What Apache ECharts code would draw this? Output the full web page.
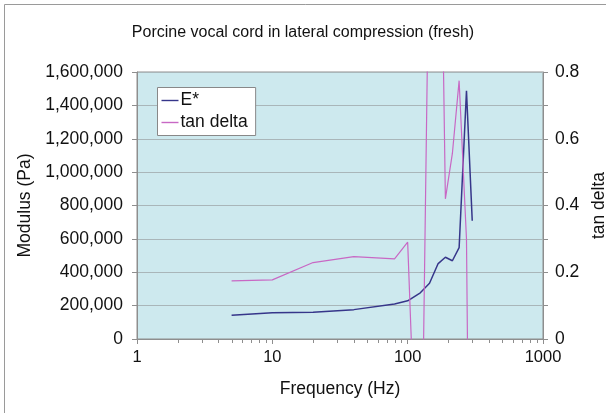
<!DOCTYPE html>
<html>
<head>
<meta charset="utf-8">
<script src="https://cdn.jsdelivr.net/npm/echarts@6/dist/echarts.min.js"></script>
<style>
  html, body { margin: 0; padding: 0; background: #fff; }
  #main { width: 606px; height: 413px; }
</style>
</head>
<body>
<div id="main"></div>
<script>
// frequencies (Hz)
var freq = [5, 10, 20, 40, 80, 100, 124, 145, 168, 190, 214, 240, 272, 300];
// complex modulus E* (Pa)
var modulus = [143000, 157000, 161000, 176000, 210000, 229000, 277000, 334000, 452000, 490000, 469000, 547000, 1488000, 709000];
// tan delta
var tanDelta = [0.174, 0.177, 0.229, 0.247, 0.240, 0.290, -0.73, 1.3, 1.9, 0.42, 0.556, 0.774, 0.30, -1.5];
var xTicks = [1, 10, 100, 1000];

function pairs(xs, ys) {
    var out = [];
    for (var i = 0; i < xs.length; i++) out.push([xs[i], ys[i]]);
    return out;
}

var font = 'Liberation Sans';

function ModulusChart() {
    var myChart = echarts.init(document.getElementById('main'));
    var option = {
        backgroundColor: '#fff',
        title: {
            text: 'Porcine vocal cord in lateral compression (fresh)',
            left: 'center',
            top: 20,
            textStyle: { fontFamily: font, fontSize: 16, fontWeight: 'normal', color: '#111' }
        },
        legend: {
            orient: 'vertical',
            left: 157.5,
            top: 87.5,
            padding: [4, 8, 4, 4],
            itemGap: 4,
            itemWidth: 17,
            itemHeight: 18,
            icon: 'path://M0,0 H17 V1.4 H0 Z',
            backgroundColor: '#fff',
            borderColor: '#888',
            borderWidth: 1,
            textStyle: { fontFamily: font, fontSize: 17.5, color: '#111', padding: [0, 0, 0, -3] },
            data: ['E*', 'tan delta']
        },
        grid: {
            left: 137, right: 63, top: 72, bottom: 74,
            containLabel: false,
            outerBoundsMode: 'none',
            show: true,
            backgroundColor: '#CDE9EE',
            borderColor: '#8E8E8E',
            borderWidth: 1
        },
        xAxis: {
            type: 'log',
            logBase: 10,
            min: 1,
            max: 1000,
            name: 'Frequency (Hz)',
            nameLocation: 'middle',
            nameGap: 41,
            nameTextStyle: { fontFamily: font, fontSize: 17.5, color: '#111' },
            axisLine: { lineStyle: { color: '#8E8E8E' } },
            axisTick: { show: true, inside: false, length: 5, lineStyle: { color: '#8E8E8E' } },
            minorTick: { show: false },
            splitLine: { show: false },
            axisLabel: {
                fontFamily: font, fontSize: 16.5, color: '#111', margin: 10,
                formatter: function (v) { return String(v); }
            }
        },
        yAxis: [
            {
                type: 'value',
                min: 0,
                max: 1600000,
                interval: 200000,
                position: 'left',
                name: 'Modulus (Pa)',
                nameLocation: 'middle',
                nameRotate: 90,
                nameGap: 99,
                nameTextStyle: { fontFamily: font, fontSize: 17.5, color: '#111' },
                axisLine: { show: true, lineStyle: { color: '#8E8E8E' } },
                axisTick: { show: true, length: 5, lineStyle: { color: '#8E8E8E' } },
                splitLine: { show: true, lineStyle: { color: '#A9B6B9', width: 1 } },
                axisLabel: {
                    fontFamily: font, fontSize: 17.5, color: '#111', margin: 14,
                    formatter: function (v) { return v.toLocaleString('en-US'); }
                }
            },
            {
                type: 'value',
                min: 0,
                max: 0.8,
                interval: 0.2,
                position: 'right',
                name: 'tan delta',
                nameLocation: 'middle',
                nameRotate: 90,
                nameGap: 42,
                nameTextStyle: { fontFamily: font, fontSize: 17.5, color: '#111' },
                axisLine: { show: true, lineStyle: { color: '#8E8E8E' } },
                axisTick: { show: true, length: 5, lineStyle: { color: '#8E8E8E' } },
                minorTick: { show: true, splitNumber: 2, length: 5, lineStyle: { color: '#8E8E8E' } },
                splitLine: { show: false },
                axisLabel: { fontFamily: font, fontSize: 17.5, color: '#111', margin: 12 }
            }
        ],
        series: [
            {
                name: 'E*',
                type: 'line',
                yAxisIndex: 0,
                symbol: 'none',
                clip: true,
                color: '#36368A',
                lineStyle: { width: 1.5, color: '#36368A' },
                data: pairs(freq, modulus)
            },
            {
                name: 'tan delta',
                type: 'line',
                yAxisIndex: 1,
                symbol: 'none',
                clip: true,
                color: '#C868C4',
                lineStyle: { width: 1.2, color: '#C868C4' },
                data: pairs(freq, tanDelta)
            }
        ]
    };
    myChart.setOption(option, true);

    // minor ticks 2..9 of every decade, placed through the log axis
    var y0 = myChart.convertToPixel({ yAxisIndex: 0 }, 0);
    var marks = [];
    for (var d = 0; d < xTicks.length - 1; d++) {
        for (var k = 2; k <= 9; k++) {
            var px = Math.round(myChart.convertToPixel({ xAxisIndex: 0 }, xTicks[d] * k)) + 0.5;
            marks.push({
                type: 'line',
                silent: true,
                shape: { x1: px, y1: y0, x2: px, y2: y0 + 4 },
                style: { stroke: '#8E8E8E', lineWidth: 1 }
            });
        }
    }
    // chart area border
    marks.push({
        type: 'rect',
        silent: true,
        shape: { x: 4.5, y: 4.5, width: 700, height: 500 },
        style: { fill: null, stroke: '#9A9A9A', lineWidth: 1 }
    });
    myChart.setOption({ graphic: marks });
    return myChart;
}

window.onload = function () {
    modulusChart = ModulusChart();
    window.onresize = function () {
        modulusChart.resize();
    };
};
</script>
</body>
</html>
